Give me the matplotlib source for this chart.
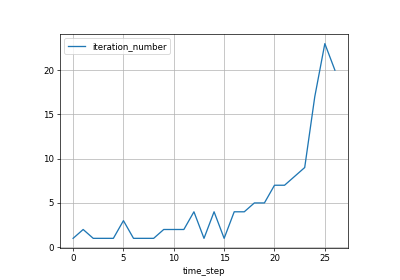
import matplotlib
matplotlib.use("Agg")
import matplotlib.pyplot as plt

time_step = list(range(27))
iteration_number = [1, 2, 1, 1, 1, 3, 1, 1, 1, 2, 2, 2, 4, 1, 4, 1, 4, 4, 5, 5,
                    7, 7, 8, 9, 17, 23, 20]

# draw at matplotlib defaults and shrink via dpi so it lands at 400x280
fig = plt.figure(figsize=(6.4, 4.48), dpi=62.5)
ax = fig.add_axes([0.15, 0.114, 0.72, 0.765])
ax.plot(time_step, iteration_number, label="iteration_number")
ax.set_xlabel("time_step")
ax.grid(True)
ax.set_xticks([0, 5, 10, 15, 20, 25])
ax.set_yticks([0, 5, 10, 15, 20])
ax.legend(loc="upper left")
fig.savefig("out.png", dpi=62.5)
